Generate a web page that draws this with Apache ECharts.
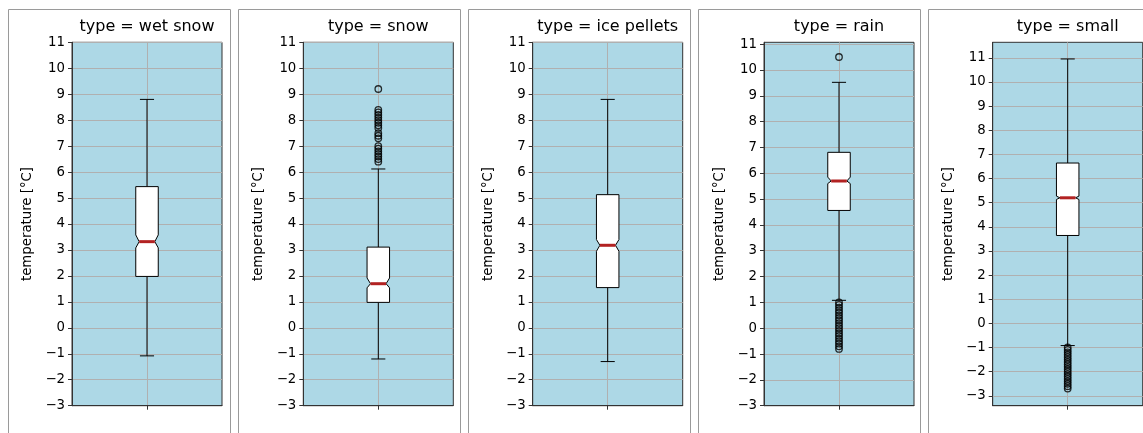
<!DOCTYPE html>
<html><head><meta charset="utf-8">
<script src="https://cdn.jsdelivr.net/npm/echarts@6/dist/echarts.min.js"></script>
<style>html,body{margin:0;padding:0;background:#fff}#c{width:1143px;height:433px}</style>
</head><body><div id="c"></div>
<script>
// ---- data ----
const types = ['wet snow', 'snow', 'ice pellets', 'rain', 'small'];
const whiskerLo = [-1.08, -1.2, -1.3, 1.08, -0.92];
const q1 = [1.98, 0.98, 1.55, 4.56, 3.64];
const notchLo = [3.08, 1.54, 2.95, 5.6, 5.13];
const median = [3.32, 1.70, 3.18, 5.70, 5.2];
const notchHi = [3.58, 1.92, 3.40, 5.85, 5.27];
const q3 = [5.44, 3.11, 5.13, 6.81, 6.64];
const whiskerHi = [8.8, 6.12, 8.8, 9.52, 10.95];
const outliersWetSnow = [];
const outliersSnow = [9.2, 8.4, 8.3, 8.2, 8.1, 8.0, 7.9, 7.8, 7.7, 7.5, 7.4, 7.3, 7.0, 6.9, 6.8, 6.7, 6.6, 6.5, 6.4];
const outliersIcePellets = [];
const outliersRain = [10.5, 1.0, 0.9, 0.8, 0.7, 0.6, 0.5, 0.4, 0.3, 0.2, 0.1, 0.0, -0.1, -0.2, -0.3, -0.4, -0.5, -0.6, -0.7, -0.8];
const outliersSmall = [-1.0, -1.1, -1.2, -1.3, -1.4, -1.5, -1.6, -1.7, -1.8, -1.9, -2.0, -2.1, -2.2, -2.3, -2.4, -2.5, -2.6, -2.7];
const yMin = [-3, -3, -3, -3, -3.41];
const yMax = [11, 11, 11, 11.07, 11.64];
const yTicks = [-3, -2, -1, 0, 1, 2, 3, 4, 5, 6, 7, 8, 9, 10, 11];
const yLabel = 'temperature [°C]';

// ---- layout ----
const outliers = [outliersWetSnow, outliersSnow, outliersIcePellets, outliersRain, outliersSmall];
const plotLeft = [72, 303.3, 532.7, 764, 992.7];
const plotW = 150, plotTop = 42.3, plotH = 363.4;
const FONT = 'DejaVu Sans';

function renderBox(params, api) {
  const x = api.value(0);
  const wl = api.value(1), a = api.value(2), nl = api.value(3), m = api.value(4),
        nh = api.value(5), b = api.value(6), wh = api.value(7);
  const P = (dx, v) => api.coord([x + dx, v]);
  const H = 0.075, N = 0.052, C = 0.047;
  const blk = {stroke: '#000', lineWidth: 1, fill: null};
  const ln = (p1, p2, st) => ({type: 'line', shape: {x1: p1[0], y1: p1[1], x2: p2[0], y2: p2[1]}, style: st});
  const pts = [P(-H, a), P(H, a), P(H, nl), P(N, m), P(H, nh), P(H, b), P(-H, b), P(-H, nh), P(-N, m), P(-H, nl)];
  return {type: 'group', children: [
    ln(P(0, wl), P(0, a), blk),
    ln(P(0, b), P(0, wh), blk),
    ln(P(-C, wl), P(C, wl), blk),
    ln(P(-C, wh), P(C, wh), blk),
    {type: 'polygon', shape: {points: pts}, style: {fill: '#fff', stroke: '#000', lineWidth: 1}},
    ln(P(-N, m), P(N, m), {stroke: '#b22222', lineWidth: 3})
  ]};
}

const grid = [], xAxis = [], yAxis = [], series = [], title = [], graphic = [];
types.forEach((t, i) => {
  graphic.push({type: 'rect', shape: {x: 8.5 + 230 * i, y: 9.5, width: 222, height: 460},
    style: {fill: null, stroke: '#9a9a9a', lineWidth: 1}, silent: true});
  grid.push({left: plotLeft[i], top: plotTop, width: plotW, height: plotH, show: true,
    backgroundColor: '#add8e6', borderColor: '#333', borderWidth: 1, outerBoundsMode: 'none', containLabel: false});
  title.push({text: 'type = ' + t, left: plotLeft[i] + plotW / 2, top: 19, textAlign: 'center', padding: 0,
    textStyle: {fontFamily: FONT, fontSize: 16, fontWeight: 'normal', color: '#000'}});
  xAxis.push({type: 'value', gridIndex: i, min: 0.5, max: 1.5, interval: 0.5,
    axisLine: {show: true, onZero: false, lineStyle: {color: '#333'}},
    axisTick: {show: true, customValues: [1], length: 4, lineStyle: {color: '#333'}},
    axisLabel: {show: false},
    splitLine: {show: true, lineStyle: {color: '#b0b0b0', width: 1}}});
  const ya = {type: 'value', gridIndex: i, min: yMin[i], max: yMax[i],
    name: yLabel, nameLocation: 'middle', nameRotate: 90, nameGap: 38,
    nameTextStyle: {fontFamily: FONT, fontSize: 13.3, color: '#000'},
    axisLine: {show: true, onZero: false, lineStyle: {color: '#333'}},
    axisTick: {show: true, customValues: yTicks, length: 4, lineStyle: {color: '#333'}},
    axisLabel: {customValues: yTicks, margin: 7, fontFamily: FONT, fontSize: 13.3, color: '#000',
      formatter: v => String(v).replace('-', '\u2212')},
    splitLine: {show: true, lineStyle: {color: '#b0b0b0', width: 1}}};
  if (Number.isInteger(yMin[i])) ya.interval = 1; else ya.splitNumber = 15;
  yAxis.push(ya);
  series.push({type: 'custom', xAxisIndex: i, yAxisIndex: i, renderItem: renderBox, silent: true,
    data: [[1, whiskerLo[i], q1[i], notchLo[i], median[i], notchHi[i], q3[i], whiskerHi[i]]], z: 3});
  series.push({type: 'scatter', xAxisIndex: i, yAxisIndex: i, symbol: 'circle', symbolSize: 6.5, silent: true,
    itemStyle: {color: 'transparent', borderColor: '#000', borderWidth: 1.3},
    data: outliers[i].map(v => [1, v]), z: 4});
});

const chart = echarts.init(document.getElementById('c'), null, {renderer: 'canvas'});
chart.setOption({animation: false, backgroundColor: '#fff', title, grid, xAxis, yAxis, series, graphic});
</script></body></html>
